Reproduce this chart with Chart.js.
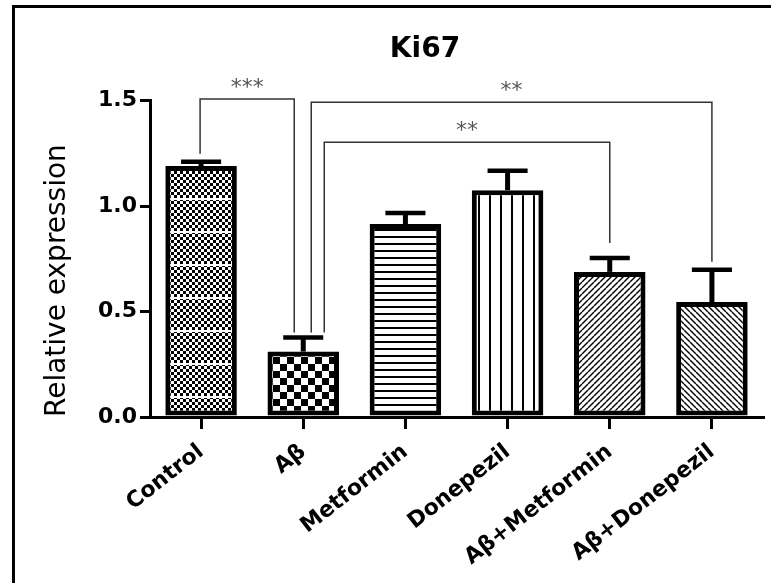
<!DOCTYPE html>
<html>
<head>
<meta charset="utf-8">
<script src="https://cdn.jsdelivr.net/npm/chart.js@4.4.0/dist/chart.umd.min.js"></script>
<style>
  html, body { margin: 0; padding: 0; background: #fff; }
  #wrap { position: relative; width: 771px; height: 583px; }
  #frame { position: absolute; left: 12px; top: 5px; right: 0; bottom: 0; border-left: 3px solid #000; border-top: 3px solid #000; pointer-events: none; }
</style>
</head>
<body>
<div id="wrap">
  <canvas id="chartKi67" width="771" height="583"></canvas>
  <div id="frame"></div>
</div>
<script>
const categories = ['Control', 'Aβ', 'Metformin', 'Donepezil', 'Aβ+Metformin', 'Aβ+Donepezil'];
const meanValues = [1.19, 0.31, 0.915, 1.075, 0.688, 0.545];
const errorValues = [0.02, 0.067, 0.052, 0.092, 0.066, 0.153];
const yTicks = [0, 0.5, 1.0, 1.5];

// significance brackets (category index from / to, height, label)
const bracketFrom = [0, 1, 1];
const bracketTo = [1, 5, 4];
const bracketLevel = [1.508, 1.492, 1.302];
const bracketLabels = ['***', '**', '**'];

// small offsets of the bracket legs, in px
const legShift = [[-1, -9], [8, 0], [21, 0]];
const legGap = [[8, 5], [5, 8], [5, 15]];

function makePattern(w, h, draw) {
    const c = document.createElement('canvas');
    c.width = w; c.height = h;
    const g = c.getContext('2d');
    g.fillStyle = '#fff';
    g.fillRect(0, 0, w, h);
    g.fillStyle = '#000';
    g.strokeStyle = '#000';
    draw(g, w, h);
    return g.createPattern(c, 'repeat');
}

const patterns = [
    // fine dots with a light band
    makePattern(6, 33, (g, w, h) => {
        for (let y = 0; y < h; y += 3) {
            for (let x = 0; x < w; x += 3) {
                if (((x + y) / 3) % 2 === 0) g.fillRect(x, y, 3, 3);
            }
        }
        g.fillStyle = '#fff';
        g.fillRect(0, 0, w, 2);
    }),
    // coarse checker
    makePattern(14, 14, (g) => {
        g.fillRect(0, 0, 7, 7);
        g.fillRect(7, 7, 7, 7);
    }),
    // horizontal lines
    makePattern(7, 7, (g) => {
        g.fillRect(0, 5, 7, 2);
    }),
    // vertical lines
    makePattern(11, 11, (g) => {
        g.fillRect(5, 0, 2, 11);
    }),
    // diagonal /
    makePattern(6, 6, (g) => {
        g.lineWidth = 1.4;
        for (const o of [-6, 0, 6]) {
            g.beginPath(); g.moveTo(o, 6); g.lineTo(o + 6, 0); g.stroke();
        }
    }),
    // diagonal \
    makePattern(6, 6, (g) => {
        g.lineWidth = 1.4;
        for (const o of [-6, 0, 6]) {
            g.beginPath(); g.moveTo(o, 0); g.lineTo(o + 6, 6); g.stroke();
        }
    })
];

const errorBarPlugin = {
    id: 'errorBars',
    afterDatasetsDraw(chart) {
        const ctx = chart.ctx;
        const yScale = chart.scales.y;
        const meta = chart.getDatasetMeta(0);
        ctx.save();
        ctx.strokeStyle = '#000';
        meta.data.forEach((bar, i) => {
            const top = yScale.getPixelForValue(meanValues[i] + errorValues[i]);
            const half = bar.width * 0.28;
            ctx.lineWidth = 5;
            ctx.beginPath();
            ctx.moveTo(bar.x, bar.y);
            ctx.lineTo(bar.x, top);
            ctx.stroke();
            ctx.lineWidth = 4.5;
            ctx.beginPath();
            ctx.moveTo(bar.x - half, top);
            ctx.lineTo(bar.x + half, top);
            ctx.stroke();
        });
        ctx.restore();
    }
};

const bracketPlugin = {
    id: 'brackets',
    afterDatasetsDraw(chart) {
        const ctx = chart.ctx;
        const xScale = chart.scales.x;
        const yScale = chart.scales.y;
        ctx.save();
        bracketFrom.forEach((from, k) => {
            const to = bracketTo[k];
            const x1 = xScale.getPixelForValue(from) + legShift[k][0];
            const x2 = xScale.getPixelForValue(to) + legShift[k][1];
            const yLine = yScale.getPixelForValue(bracketLevel[k]);
            const y1 = yScale.getPixelForValue(meanValues[from] + errorValues[from]) - legGap[k][0];
            const y2 = yScale.getPixelForValue(meanValues[to] + errorValues[to]) - legGap[k][1];
            ctx.strokeStyle = '#333';
            ctx.lineWidth = 1.5;
            ctx.beginPath();
            ctx.moveTo(x1, y1);
            ctx.lineTo(x1, yLine);
            ctx.lineTo(x2, yLine);
            ctx.lineTo(x2, y2);
            ctx.stroke();
            ctx.fillStyle = '#555';
            ctx.font = '22px "DejaVu Sans"';
            ctx.textAlign = 'center';
            ctx.textBaseline = 'alphabetic';
            ctx.fillText(bracketLabels[k], (x1 + x2) / 2, yLine - 5);
        });
        ctx.restore();
    }
};

const ctx = document.getElementById('chartKi67').getContext('2d');
new Chart(ctx, {
    type: 'bar',
    data: {
        labels: categories,
        datasets: [{
            data: meanValues,
            backgroundColor: patterns,
            borderColor: '#000',
            borderWidth: 5,
            borderSkipped: false,
            barPercentage: 0.7,
            categoryPercentage: 1.0
        }]
    },
    options: {
        responsive: false,
        animation: false,
        layout: { padding: { left: 87, right: 8, top: 0, bottom: 0 } },
        plugins: {
            legend: { display: false },
            tooltip: { enabled: false },
            title: {
                display: true,
                text: 'Ki67',
                color: '#000',
                font: { family: 'DejaVu Sans', size: 28, weight: 'bold' },
                padding: { top: 33, bottom: 34 }
            }
        },
        scales: {
            x: {
                afterFit: (scale) => { scale.height = 166; },
                grid: { drawOnChartArea: false, drawTicks: true, tickLength: 12, lineWidth: 3, color: '#000', offset: false },
                border: { display: true, width: 3, color: '#000' },
                ticks: {
                    color: '#000',
                    autoSkip: false,
                    minRotation: 38,
                    maxRotation: 38,
                    padding: 10,
                    font: { family: 'DejaVu Sans', size: 22, weight: 'bold' }
                }
            },
            y: {
                min: 0,
                max: 1.5,
                afterFit: (scale) => { scale.width = 63; },
                afterBuildTicks: (scale) => { scale.ticks = yTicks.map(v => ({ value: v })); },
                grid: { drawOnChartArea: false, drawTicks: true, tickLength: 10, lineWidth: 3, color: '#000' },
                border: { display: true, width: 3, color: '#000' },
                ticks: {
                    color: '#000',
                    padding: 3,
                    font: { family: 'DejaVu Sans', size: 22, weight: 'bold' },
                    callback: (v) => Number(v).toFixed(1)
                },
                title: {
                    display: true,
                    text: 'Relative expression',
                    align: 'start',
                    color: '#000',
                    font: { family: 'DejaVu Sans', size: 28 },
                    padding: { top: -46, bottom: 0 }
                }
            }
        }
    },
    plugins: [errorBarPlugin, bracketPlugin]
});
</script>
</body>
</html>
